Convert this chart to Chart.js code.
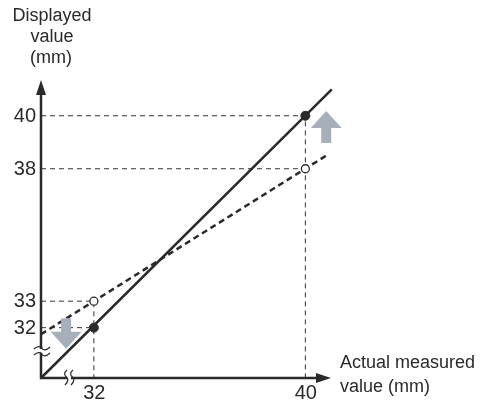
<!DOCTYPE html>
<html>
<head>
<meta charset="utf-8">
<script src="https://cdn.jsdelivr.net/npm/chart.js@4.4.0/dist/chart.umd.min.js"></script>
<style>
  body { margin: 0; background: #fff; }
  canvas { display: block; }
</style>
</head>
<body>
<canvas id="myChart" width="484" height="402"></canvas>
<script>
// values (mm)
const xTicks = [32, 40];
const yTicks = [32, 33, 38, 40];
const trueLine = [{x: 30, y: 30.1}, {x: 41, y: 41}];
const shiftedLine = [{x: 30, y: 31.75}, {x: 40.83, y: 38.52}];
const actualPoints = [{x: 32, y: 32}, {x: 40, y: 40}];
const displayedPoints = [{x: 32, y: 33}, {x: 40, y: 38}];
// guide lines from the axes to the points (gap = break)
const gap = {x: null, y: null};
const guides = [
  {x: 30, y: 40}, {x: 40, y: 40}, {x: 40, y: 30.1}, gap,
  {x: 30, y: 38}, {x: 40, y: 38}, gap,
  {x: 30, y: 33}, {x: 32, y: 33}, {x: 32, y: 30.1}, gap,
  {x: 30, y: 32}, {x: 32, y: 32}
];
// block arrows: centre x, tail y, tip y
const arrows = [
  {x: 40.79, from: 38.97, to: 40.18},
  {x: 30.95, from: 32.36, to: 31.2}
];

const ink = '#2a2a2a';
const font = '18px "Liberation Sans", Arial, sans-serif';
const tickFont = '20px "Liberation Sans", Arial, sans-serif';

const decorations = {
  id: 'decorations',
  afterDatasetsDraw(chart) {
    const ctx = chart.ctx;
    const xs = chart.scales.x, ys = chart.scales.y;
    const a = chart.chartArea;
    const ox = a.left, oy = a.bottom;

    ctx.save();
    // gray block arrows
    ctx.fillStyle = '#a7b0ba';
    arrows.forEach(ar => {
      const cx = xs.getPixelForValue(ar.x);
      const y0 = ys.getPixelForValue(ar.from);
      const y1 = ys.getPixelForValue(ar.to);
      const dir = y1 < y0 ? -1 : 1;
      const headLen = 17, headW = 15.5, shaftW = 5;
      const yb = y1 - dir * headLen;
      ctx.beginPath();
      ctx.moveTo(cx - shaftW, y0);
      ctx.lineTo(cx - shaftW, yb);
      ctx.lineTo(cx - headW, yb);
      ctx.lineTo(cx, y1);
      ctx.lineTo(cx + headW, yb);
      ctx.lineTo(cx + shaftW, yb);
      ctx.lineTo(cx + shaftW, y0);
      ctx.closePath();
      ctx.fill();
    });

    // axes
    ctx.strokeStyle = ink;
    ctx.fillStyle = ink;
    ctx.lineWidth = 2.5;
    ctx.beginPath();
    ctx.moveTo(ox, oy + 1.2);
    ctx.lineTo(ox, a.top + 12);
    ctx.moveTo(ox - 1.2, oy);
    ctx.lineTo(a.right - 12, oy);
    ctx.stroke();
    ctx.beginPath();
    ctx.moveTo(ox, a.top);
    ctx.lineTo(ox - 5, a.top + 15);
    ctx.lineTo(ox + 5, a.top + 15);
    ctx.closePath();
    ctx.fill();
    ctx.beginPath();
    ctx.moveTo(a.right, oy);
    ctx.lineTo(a.right - 15, oy - 5);
    ctx.lineTo(a.right - 15, oy + 5);
    ctx.closePath();
    ctx.fill();

    // axis break marks
    ctx.fillStyle = '#fff';
    ctx.fillRect(ox - 2, 349, 4, 4);
    ctx.fillRect(67, oy - 2, 4, 4);
    ctx.lineWidth = 1.2;
    ctx.strokeStyle = ink;
    [348, 354].forEach(y => {
      ctx.beginPath();
      ctx.moveTo(34, y + 1);
      ctx.bezierCurveTo(38, y - 3, 42, y - 1, 42, y + 0.5);
      ctx.bezierCurveTo(43, y + 2, 46, y + 3, 50, y - 1);
      ctx.stroke();
    });
    [66, 72].forEach(x => {
      ctx.beginPath();
      ctx.moveTo(x + 1, 370);
      ctx.bezierCurveTo(x - 3, 373, x - 1, 376, x + 0.5, 377);
      ctx.bezierCurveTo(x + 2, 378, x + 3, 381, x - 1, 385);
      ctx.stroke();
    });

    // tick labels
    ctx.fillStyle = ink;
    ctx.font = tickFont;
    ctx.textAlign = 'right';
    ctx.textBaseline = 'middle';
    yTicks.forEach(v => ctx.fillText(String(v), 36, ys.getPixelForValue(v) + 0.5));
    ctx.textAlign = 'center';
    ctx.textBaseline = 'alphabetic';
    xTicks.forEach(v => ctx.fillText(String(v), xs.getPixelForValue(v) + 0.5, 399));

    // axis titles
    ctx.font = font;
    ctx.textAlign = 'center';
    ctx.fillText('Displayed', 52, 21);
    ctx.fillText('value', 52, 42);
    ctx.fillText('(mm)', 51, 63);
    ctx.textAlign = 'left';
    ctx.fillText('Actual measured', 340, 368);
    ctx.fillText('value (mm)', 340, 392);
    ctx.restore();
  }
};

new Chart(document.getElementById('myChart'), {
  type: 'scatter',
  data: {
    datasets: [
      {
        data: actualPoints, order: 0, showLine: false,
        pointRadius: 4.5, pointBackgroundColor: ink, pointBorderColor: ink, pointBorderWidth: 1
      },
      {
        data: displayedPoints, order: 0, showLine: false,
        pointRadius: 4, pointBackgroundColor: '#fff', pointBorderColor: ink, pointBorderWidth: 1.3
      },
      {
        data: trueLine, order: 1, showLine: true, pointRadius: 0,
        borderColor: ink, borderWidth: 2.5
      },
      {
        data: shiftedLine, order: 1, showLine: true, pointRadius: 0,
        borderColor: ink, borderWidth: 2.5, borderDash: [6, 4]
      },
      {
        data: guides, order: 2, showLine: true, pointRadius: 0, spanGaps: false,
        borderColor: '#333', borderWidth: 1, borderDash: [5, 4]
      }
    ]
  },
  options: {
    responsive: false,
    animation: false,
    layout: { padding: { left: 41, top: 80, right: 153, bottom: 24 } },
    plugins: { legend: { display: false }, tooltip: { enabled: false } },
    elements: { line: { tension: 0 } },
    datasets: { scatter: { clip: false } },
    scales: {
      x: { type: 'linear', min: 30, max: 40.97, display: false },
      y: { type: 'linear', min: 30.1, max: 41.35, display: false }
    }
  },
  plugins: [decorations]
});
</script>
</body>
</html>
